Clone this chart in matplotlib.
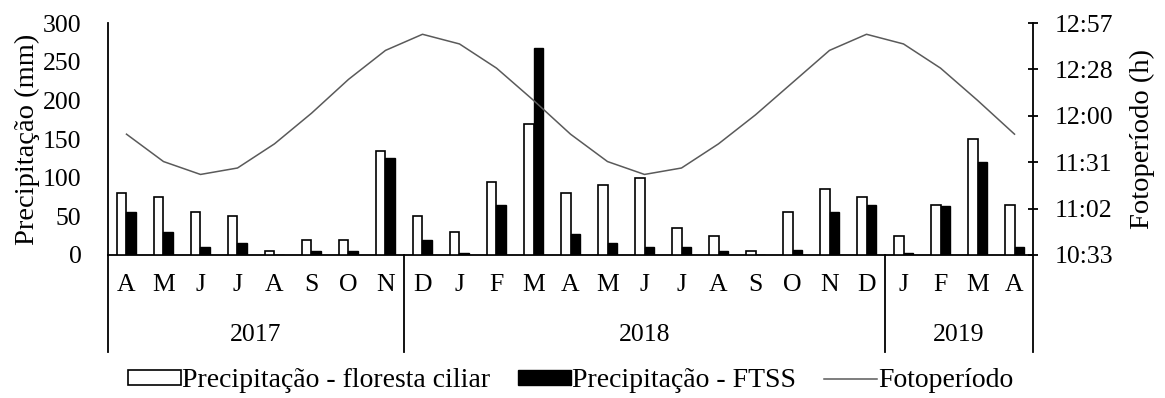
import numpy as np
import matplotlib
matplotlib.use("Agg")
import matplotlib.pyplot as plt
from matplotlib.patches import Patch
from matplotlib.lines import Line2D

plt.rcParams['font.family'] = ['Liberation Serif', 'DejaVu Serif']

meses = ['A', 'M', 'J', 'J', 'A', 'S', 'O', 'N',
         'D', 'J', 'F', 'M', 'A', 'M', 'J', 'J', 'A', 'S', 'O', 'N', 'D',
         'J', 'F', 'M', 'A']
anos = ['2017', '2018', '2019']
n_meses_ano = [8, 13, 4]

prec_ciliar = [80, 75, 55, 50, 5, 20, 20, 135,
               50, 30, 95, 170, 80, 90, 100, 35, 25, 5, 55, 85, 75,
               25, 65, 150, 65]
prec_ftss = [55, 30, 10, 15, 0, 5, 5, 125,
             20, 3, 65, 268, 27, 15, 10, 10, 5, 0, 7, 55, 65,
             3, 63, 120, 10]
fotoperiodo = ['11:48', '11:31', '11:23', '11:27', '11:42', '12:01', '12:22', '12:40',
               '12:50', '12:44', '12:29', '12:09', '11:48', '11:31', '11:23', '11:27',
               '11:42', '12:00', '12:20', '12:40', '12:50', '12:44', '12:29', '12:09',
               '11:48']
ticks_foto = ['10:33', '11:02', '11:31', '12:00', '12:28', '12:57']


def minutos(s):
    h, m = s.split(':')
    return int(h) * 60 + int(m)


foto_min = [minutos(s) for s in fotoperiodo]
x = np.arange(len(meses))
w = 0.245
fs = 18.5

fig = plt.figure(figsize=(11.65, 3.98), dpi=100)
ax = fig.add_axes([0.0927, 0.3593, 0.7940, 0.5829])

ax.bar(x - w / 2, prec_ciliar, w, color='white', edgecolor='black', linewidth=1.2, zorder=3)
ax.bar(x + w / 2, prec_ftss, w, color='black', edgecolor='black', linewidth=1.0, zorder=3)
ax.set_xlim(-0.5, len(meses) - 0.5)
ax.set_ylim(0, 300)
ax.set_yticks(np.arange(0, 301, 50))
ax.tick_params(axis='y', length=0, pad=19, labelsize=fs)
ax.set_xticks([])
ax.set_ylabel('Precipitação (mm)', fontsize=20.5, labelpad=2)
ax.spines['top'].set_visible(False)
ax.spines['right'].set_visible(False)
ax.spines['left'].set_linewidth(1.3)
ax.spines['bottom'].set_linewidth(1.3)

ax2 = ax.twinx()
ax2.plot(x, foto_min, color='#5a5a5a', linewidth=1.1, zorder=4)
ax2.set_ylim(minutos(ticks_foto[0]), minutos(ticks_foto[-1]))
ax2.set_yticks(np.linspace(minutos(ticks_foto[0]), minutos(ticks_foto[-1]), len(ticks_foto)))
ax2.set_yticklabels(ticks_foto)
ax2.tick_params(axis='y', direction='inout', length=7, width=1.3, pad=12, labelsize=fs)
ax2.set_ylabel('Fotoperíodo (h)', fontsize=20.5, labelpad=12)
ax2.spines['top'].set_visible(False)
ax2.spines['left'].set_visible(False)
ax2.spines['bottom'].set_visible(False)
ax2.spines['right'].set_linewidth(1.3)

# month letters and year groups under the axis
for i, m in enumerate(meses):
    ax.text(x[i], -0.13, m, transform=ax.get_xaxis_transform(),
            ha='center', va='center', fontsize=fs)

limites = np.concatenate([[0], np.cumsum(n_meses_ano)]) - 0.5
for b in limites:
    ax.add_line(Line2D([b, b], [0, -0.42], transform=ax.get_xaxis_transform(),
                       color='black', linewidth=1.3, clip_on=False))
for k, ano in enumerate(anos):
    centro = (limites[k] + limites[k + 1]) / 2
    ax.text(centro, -0.345, ano, transform=ax.get_xaxis_transform(),
            ha='center', va='center', fontsize=fs)

handles = [Patch(facecolor='white', edgecolor='black', linewidth=1.2),
           Patch(facecolor='black', edgecolor='black'),
           Line2D([0], [0], color='#5a5a5a', linewidth=1.1)]
labels = ['Precipitação - floresta ciliar', 'Precipitação - FTSS', 'Fotoperíodo']
fig.legend(handles, labels, loc='center', bbox_to_anchor=(0.49, 0.043), ncol=3,
           frameon=False, fontsize=20, handlelength=1.9, handleheight=0.45,
           handletextpad=0.05, columnspacing=1.0)

fig.savefig('out.png', dpi=100)
